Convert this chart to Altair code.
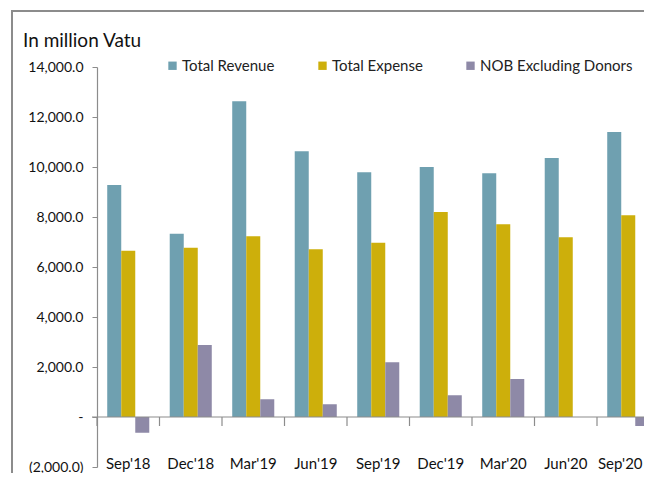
import altair as alt
import pandas as pd

categories = ["Sep'18", "Dec'18", "Mar'19", "Jun'19", "Sep'19", "Dec'19", "Mar'20", "Jun'20", "Sep'20"]
series_names = ["Total Revenue", "Total Expense", "NOB Excluding Donors"]
total_revenue = [9280, 7330, 12630, 10630, 9790, 10000, 9750, 10360, 11400]
total_expense = [6650, 6770, 7230, 6710, 6970, 8200, 7710, 7190, 8070]
nob_excl_donors = [-630, 2880, 710, 510, 2190, 870, 1520, 0, -360]
y_ticks = [-2000, 0, 2000, 4000, 6000, 8000, 10000, 12000, 14000]
colors = ["#6FA0B0", "#CDAF0B", "#8E89A7"]
chart_title = "In million Vatu"

rows = []
for i, c in enumerate(categories):
    for name, vals in zip(series_names, [total_revenue, total_expense, nob_excl_donors]):
        rows.append({"period": c, "series": name, "value": vals[i]})
df = pd.DataFrame(rows)
cat_df = pd.DataFrame({"period": categories})

FONT = "Lato"
W = 547
H = 400

x_scale = alt.Scale(domain=categories, range=[0, alt.ExprRef(expr="9 * 62.5")],
                    paddingInner=0, paddingOuter=0)
y_scale = alt.Scale(domain=[-2000, 14000], nice=False, zero=False)

y_axis = alt.Axis(
    values=y_ticks, grid=False, title=None,
    labelExpr="datum.value == 0 ? '-\u00a0\u00a0\u00a0' : (datum.value < 0 ? '(' + format(-datum.value, ',.1f') + ')' : format(datum.value, ',.1f') + '\u00a0')",
    labelFont=FONT, labelFontSize=14, labelColor="#111", labelPadding=9,
    domainColor="#8c8c8c", tickColor="#8c8c8c", tickSize=5, domainWidth=1.2,
)
x_axis = alt.Axis(
    title=None, domain=False, ticks=False, tickSize=0, labelAngle=0,
    labelFont=FONT, labelFontSize=15, labelColor="#111",
    labelBaseline="alphabetic", labelPadding=1,
    labelOffset={"condition": {"test": "datum.index == 1", "value": -8}, "value": 0},
)

bars = alt.Chart(df).mark_bar().encode(
    x=alt.X("period:N", sort=categories, scale=x_scale, axis=x_axis),
    xOffset=alt.XOffset("series:N", sort=series_names,
                        scale=alt.Scale(domain=series_names, paddingInner=0, paddingOuter=0.73)),
    y=alt.Y("value:Q", scale=y_scale, axis=y_axis),
    color=alt.Color("series:N", sort=series_names,
                    scale=alt.Scale(domain=series_names, range=colors),
                    legend=alt.Legend(
                        title=None, orient="none", direction="horizontal",
                        legendX=68, legendY=-9, columnPadding=40,
                        symbolType="square", symbolSize=70, symbolStrokeWidth=0,
                        labelFont=FONT, labelFontSize=15, labelColor="#222",
                        labelOffset=2,
                    )),
)

zero_line = alt.Chart(pd.DataFrame({"v": [0]})).mark_rule(color="#8c8c8c", strokeWidth=1.2).encode(
    y=alt.Y("v:Q", scale=y_scale),
    x=alt.value(-5), x2=alt.value(W + 20),
)

separators = alt.Chart(cat_df).mark_rule(color="#8c8c8c", strokeWidth=1.2).encode(
    x=alt.X("period:N", sort=categories, scale=x_scale, bandPosition=0),
    y=alt.value(350), y2=alt.value(359),
)

title_text = alt.Chart(pd.DataFrame({"t": [chart_title]})).mark_text(
    font=FONT, fontSize=19, align="left", baseline="alphabetic", color="#111"
).encode(text="t:N", x=alt.value(-74), y=alt.value(-20))

frame = alt.Chart(pd.DataFrame({"a": [1]})).mark_rect(
    fill=None, stroke="#8c8c8c", strokeWidth=2
).encode(x=alt.value(-85), x2=alt.value(W + 40), y=alt.value(-56), y2=alt.value(H + 40))

chart = alt.layer(frame, bars, zero_line, separators, title_text).properties(
    width=W, height=H,
    autosize=alt.AutoSizeParams(type="none"),
    padding={"left": 89, "top": 59, "right": 0, "bottom": 6},
).configure_view(stroke=None, clip=False)

chart.save("out.html", embed_options={"renderer": "svg", "actions": False})
